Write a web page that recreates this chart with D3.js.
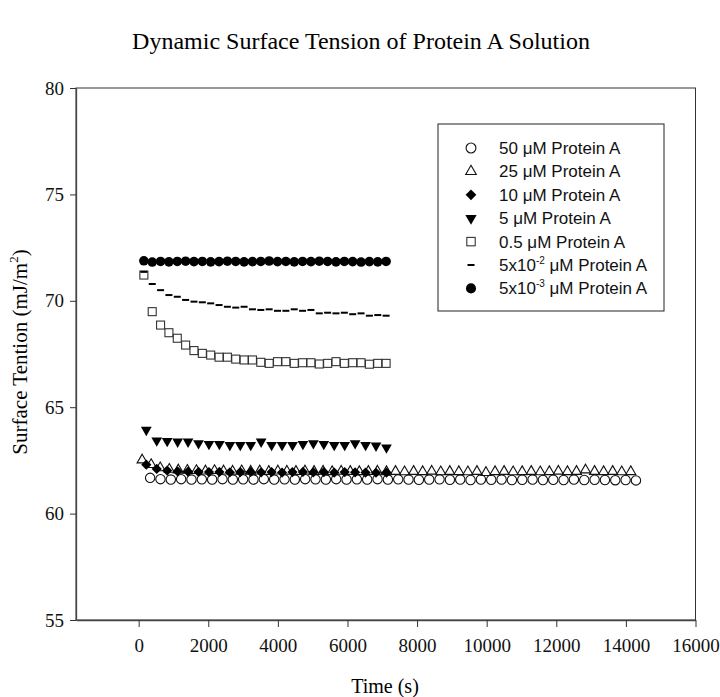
<!DOCTYPE html>
<html>
<head>
<meta charset="utf-8">
<script src="https://cdn.jsdelivr.net/npm/d3@7"></script>
<style>
  body { margin: 0; background: #fff; }
  svg { display: block; }
</style>
</head>
<body>
<script>
// Tick labels
var xTicks = [0, 2000, 4000, 6000, 8000, 10000, 12000, 14000, 16000],
    yTicks = [55, 60, 65, 70, 75, 80];

// Sampling times (s)
var tShort = [150, 390, 630, 870, 1110, 1350, 1590, 1830, 2070, 2310, 2550, 2790, 3030, 3270, 3510,
              3750, 3990, 4230, 4470, 4710, 4950, 5190, 5430, 5670, 5910, 6150, 6390, 6630, 6870, 7110];
var tMid = [220, 520, 820, 1120, 1420, 1720, 2020, 2320, 2620, 2920, 3220, 3520,
            3820, 4120, 4420, 4720, 5020, 5320, 5620, 5920, 6220, 6520, 6820, 7120];
var t25 = [100, 360, 620, 880, 1140, 1400, 1660, 1920, 2180, 2440, 2700, 2960, 3220, 3480,
           3740, 4000, 4260, 4520, 4780, 5040, 5300, 5560, 5820, 6080, 6340, 6600, 6860, 7120,
           7380, 7640, 7900, 8160, 8420, 8680, 8940, 9200, 9460, 9720, 9980, 10240, 10500,
           10760, 11020, 11280, 11540, 11800, 12060, 12320, 12580, 12840, 13100, 13360, 13620,
           13880, 14140];
var t50 = [330, 627, 924, 1221, 1518, 1815, 2112, 2409, 2706, 3003, 3300, 3597, 3894, 4191,
           4488, 4785, 5082, 5379, 5676, 5973, 6270, 6567, 6864, 7161, 7458, 7755, 8052, 8349,
           8646, 8943, 9240, 9537, 9834, 10131, 10428, 10725, 11022, 11319, 11616, 11913, 12210,
           12507, 12804, 13101, 13398, 13695, 13992, 14289];

// Surface tension (mJ/m^2)
var st50 = [61.68, 61.62, 61.60, 61.62, 61.60, 61.61, 61.60, 61.62, 61.60, 61.61, 61.60, 61.62,
            61.60, 61.61, 61.60, 61.62, 61.61, 61.60, 61.62, 61.60, 61.61, 61.60, 61.62, 61.60,
            61.61, 61.60, 61.59, 61.60, 61.61, 61.59, 61.60, 61.58, 61.60, 61.59, 61.60, 61.58,
            61.59, 61.60, 61.58, 61.59, 61.58, 61.60, 61.58, 61.59, 61.58, 61.57, 61.58, 61.56];
var st25 = [62.52, 62.30, 62.15, 62.08, 62.05, 62.03, 62.02, 62.00, 62.02, 62.00, 61.99, 62.01,
            61.99, 62.00, 61.98, 62.00, 61.99, 61.98, 62.00, 61.98, 61.99, 61.97, 61.99, 61.98,
            61.97, 61.98, 61.99, 61.97, 61.98, 61.96, 61.98, 61.97, 61.99, 61.96, 61.98, 61.97,
            61.96, 61.98, 61.93, 61.97, 61.98, 61.96, 61.97, 61.98, 61.96, 61.97, 61.99, 61.97,
            61.98, 62.05, 61.98, 61.97, 61.98, 61.96, 61.97];
var st10 = [62.30, 62.10, 62.02, 61.98, 61.97, 61.96, 61.95, 61.96, 61.94, 61.95, 61.96, 61.94,
            61.95, 61.93, 61.95, 61.96, 61.94, 61.95, 61.93, 61.95, 61.94, 61.93, 61.92, 61.93];
var st5 = [63.93, 63.43, 63.41, 63.38, 63.38, 63.30, 63.27, 63.27, 63.22, 63.22, 63.22, 63.38,
           63.22, 63.22, 63.22, 63.27, 63.30, 63.27, 63.22, 63.22, 63.30, 63.22, 63.19, 63.10];
var st05 = [71.21, 69.49, 68.86, 68.50, 68.24, 67.92, 67.66, 67.53, 67.45, 67.35, 67.35, 67.26,
            67.22, 67.22, 67.11, 67.06, 67.14, 67.14, 67.06, 67.09, 67.09, 67.03, 67.06, 67.14,
            67.06, 67.09, 67.09, 67.02, 67.06, 67.06];
var st5e2 = [71.36, 70.79, 70.50, 70.27, 70.19, 70.04, 69.96, 69.93, 69.88, 69.80, 69.72, 69.68,
             69.72, 69.60, 69.57, 69.60, 69.53, 69.53, 69.60, 69.53, 69.57, 69.41, 69.44, 69.41,
             69.44, 69.37, 69.41, 69.30, 69.33, 69.30];
var st5e3 = [71.88, 71.82, 71.85, 71.83, 71.85, 71.86, 71.84, 71.85, 71.83, 71.84, 71.86, 71.85,
             71.83, 71.84, 71.85, 71.87, 71.84, 71.85, 71.83, 71.85, 71.84, 71.86, 71.85, 71.83,
             71.85, 71.84, 71.82, 71.84, 71.83, 71.85];

// Legend labels: [number, superscript, rest]
var labels = [
    ["50 ", "", "\u03bcM Protein A"],
    ["25 ", "", "\u03bcM Protein A"],
    ["10 ", "", "\u03bcM Protein A"],
    ["5 ", "", "\u03bcM Protein A"],
    ["0.5 ", "", "\u03bcM Protein A"],
    ["5x10", "-2", " \u03bcM Protein A"],
    ["5x10", "-3", " \u03bcM Protein A"]
];

var series = [
    { t: t50, v: st50, kind: "circleOpen" },
    { t: t25, v: st25, kind: "triUp" },
    { t: tMid, v: st10, kind: "diamond" },
    { t: tMid, v: st5, kind: "triDown" },
    { t: tShort, v: st05, kind: "square" },
    { t: tShort, v: st5e2, kind: "dash" },
    { t: tShort, v: st5e3, kind: "circleFilled" }
];

var W = 720, H = 697,
    plot = { left: 76, right: 695.5, top: 88, bottom: 620 },
    serif = "'Liberation Serif', 'Times New Roman', serif";

var svg = d3.select("body").
    append("svg").
    attr("width", W).
    attr("height", H);

var x = d3.scaleLinear().domain([-1800, 16000]).range([plot.left, plot.right]),
    y = d3.scaleLinear().domain([55, 80]).range([plot.bottom, plot.top]);

// Title
svg.append("text").
    attr("x", 361).
    attr("y", 49).
    attr("text-anchor", "middle").
    style("font-family", serif).
    style("font-size", "24px").
    text("Dynamic Surface Tension of Protein A Solution");

// Frame
svg.append("rect").
    attr("x", plot.left).
    attr("y", plot.top).
    attr("width", plot.right - plot.left).
    attr("height", plot.bottom - plot.top).
    attr("fill", "none").
    attr("stroke", "#333").
    attr("stroke-width", 1);

// Axes
var yAxis = svg.append("g").
    attr("transform", "translate(" + plot.left + ",0)").
    call(d3.axisLeft(y).tickValues(yTicks).tickSize(6).tickSizeOuter(0).tickPadding(6));

var xAxis = svg.append("g").
    attr("transform", "translate(0," + plot.bottom + ")").
    call(d3.axisBottom(x).tickValues(xTicks).tickSize(7).tickSizeOuter(0).tickPadding(12).tickFormat(d3.format("d")));

[yAxis, xAxis].forEach(function(a) {
    a.select(".domain").attr("stroke", "#444").attr("stroke-width", 1.3);
    a.selectAll(".tick line").attr("stroke", "#333");
    a.selectAll("text").
        style("font-family", serif).
        style("font-size", "19px").
        attr("fill", "#111");
});

// Axis titles
svg.append("text").
    attr("x", 385).
    attr("y", 693).
    attr("text-anchor", "middle").
    style("font-family", serif).
    style("font-size", "20px").
    text("Time (s)");

var yl = svg.append("text").
    attr("transform", "translate(27,352) rotate(-90)").
    attr("text-anchor", "middle").
    style("font-family", serif).
    style("font-size", "21px");
yl.append("tspan").text("Surface Tention (mJ/m");
yl.append("tspan").attr("dy", -9).style("font-size", "13px").text("2");
yl.append("tspan").attr("dy", 9).text(")");

// Marker drawing
function drawMarker(sel, kind, k) {
    k = k || 1;
    if (kind == "circleOpen") {
        sel.append("circle").attr("r", 4.7 * k).attr("fill", "none").attr("stroke", "#111").attr("stroke-width", 1.1);
    } else if (kind == "circleFilled") {
        sel.append("circle").attr("r", 4.8 * k).attr("fill", "#000");
    } else if (kind == "triUp") {
        sel.append("path").attr("d", d3.symbol().type(d3.symbolTriangle).size(44 * k * k)).
            attr("fill", "none").attr("stroke", "#111").attr("stroke-width", 1.1);
    } else if (kind == "triDown") {
        sel.append("path").attr("d", d3.symbol().type(d3.symbolTriangle).size(50 * k * k)).
            attr("transform", "rotate(180)").attr("fill", "#000");
    } else if (kind == "diamond") {
        sel.append("path").attr("d", d3.symbol().type(d3.symbolSquare).size(52 * k * k)).
            attr("transform", "rotate(45)").attr("fill", "#000");
    } else if (kind == "square") {
        sel.append("rect").attr("x", -4 * k).attr("y", -4 * k).attr("width", 8 * k).attr("height", 8 * k).
            attr("fill", "none").attr("stroke", "#333").attr("stroke-width", 1.1);
    } else if (kind == "dash") {
        sel.append("line").attr("x1", -3.5).attr("x2", 3.5).attr("stroke", "#000").attr("stroke-width", 2);
    }
}

series.forEach(function(s) {
    var pts = s.t.map(function(t, i) { return [t, s.v[i]]; });
    svg.append("g").
        selectAll("g").
        data(pts).
        enter().append("g").
        attr("transform", function(d) { return "translate(" + x(d[0]) + "," + y(d[1]) + ")"; }).
        each(function() { drawMarker(d3.select(this), s.kind); });
});

// Legend
var legend = svg.append("g");
legend.append("rect").
    attr("x", 438).
    attr("y", 124).
    attr("width", 226).
    attr("height", 187).
    attr("fill", "#fff").
    attr("stroke", "#222").
    attr("stroke-width", 1);

series.forEach(function(s, i) {
    var row = legend.append("g").attr("transform", "translate(0," + (148 + i * 23.4) + ")");
    drawMarker(row.append("g").attr("transform", "translate(471,0)"), s.kind, 1.05);
    var txt = row.append("text").
        attr("x", 499).
        attr("y", 6).
        style("font-family", "'Liberation Sans', Arial, sans-serif").
        style("font-size", "17px").
        attr("fill", "#111");
    txt.append("tspan").text(labels[i][0]);
    if (labels[i][1]) {
        txt.append("tspan").attr("dy", -7).style("font-size", "10px").text(labels[i][1]);
        txt.append("tspan").attr("dy", 7).text(labels[i][2]);
    } else {
        txt.append("tspan").text(labels[i][2]);
    }
});
</script>
</body>
</html>
